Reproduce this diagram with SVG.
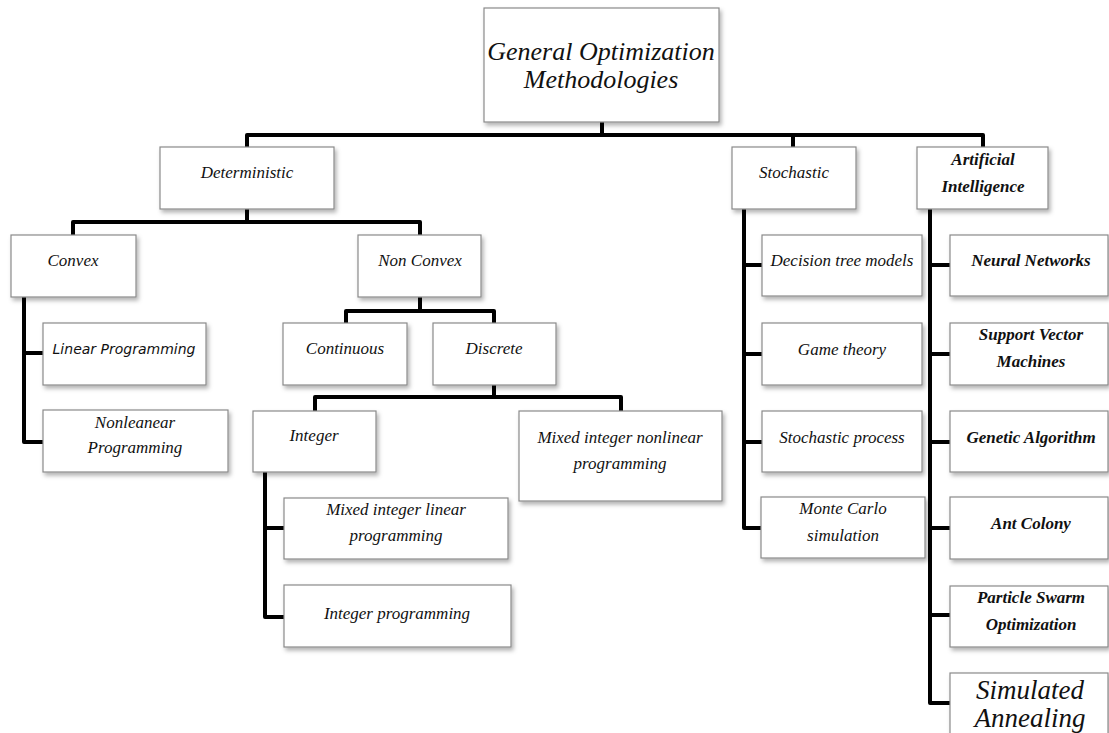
<svg xmlns="http://www.w3.org/2000/svg" width="1109" height="733" viewBox="0 0 1109 733">
<defs>
<filter id="sh" x="-10%" y="-10%" width="130%" height="140%">
<feDropShadow dx="2" dy="3" stdDeviation="2" flood-color="#000" flood-opacity="0.3"/>
</filter>
<style>
.box{fill:#fff;stroke:#8a8a8a;stroke-width:1.2;filter:url(#sh)}
.t{font-family:"Liberation Serif","Times New Roman",serif;font-style:italic;font-size:17px;fill:#111;text-anchor:middle}
.b{font-weight:bold}
.s{font-family:"DejaVu Sans",Verdana,sans-serif;font-size:14px}
.big{font-size:26px}
.sa{font-size:27px}
.c{fill:none;stroke:#000;stroke-width:4;stroke-linejoin:round}
</style>
</defs>
<rect width="1109" height="733" fill="#fff"/>
<g id="connectors">
<path class="c" d="M602,122 V135 M247,147 V135 H983 V147 M793,135 V147"/>
<path class="c" d="M247,209 V222 M73,235 V222 H420 V235"/>
<path class="c" d="M24,297 V442 H43 M24,353 H43"/>
<path class="c" d="M420,297 V311 M346,323 V311 H494 V323"/>
<path class="c" d="M494,385 V397 M315,411 V397 H621 V411"/>
<path class="c" d="M265,472 V617 H284 M265,528 H284"/>
<path class="c" d="M744,209 V528 H762 M744,265 H762 M744,354 H762 M744,442 H762"/>
<path class="c" d="M930,209 V703 H950 M930,265 H950 M930,354 H950 M930,442 H950 M930,528 H950 M930,615 H950"/>
</g>
<g id="n-general"><rect class="box" x="484" y="8" width="235" height="114"/><text class="t big" x="601" y="60">General Optimization</text><text class="t big" x="601" y="88">Methodologies</text></g>
<g id="n-deterministic"><rect class="box" x="160" y="147" width="174" height="62"/><text class="t" x="247" y="178">Deterministic</text></g>
<g id="n-stochastic"><rect class="box" x="732" y="147" width="124" height="62"/><text class="t" x="794" y="178">Stochastic</text></g>
<g id="n-ai"><rect class="box" x="917" y="147" width="131" height="62"/><text class="t b" x="983" y="165">Artificial</text><text class="t b" x="983" y="192">Intelligence</text></g>
<g id="n-convex"><rect class="box" x="11" y="235" width="125" height="62"/><text class="t" x="73" y="266">Convex</text></g>
<g id="n-nonconvex"><rect class="box" x="358" y="235" width="123" height="62"/><text class="t" x="420" y="266">Non Convex</text></g>
<g id="n-linear"><rect class="box" x="43" y="323" width="163" height="62"/><text class="t s" x="124" y="354">Linear Programming</text></g>
<g id="n-nonlinear"><rect class="box" x="43" y="410" width="185" height="62"/><text class="t" x="135" y="428">Nonleanear</text><text class="t" x="135" y="453">Programming</text></g>
<g id="n-continuous"><rect class="box" x="283" y="323" width="124" height="62"/><text class="t" x="345" y="354">Continuous</text></g>
<g id="n-discrete"><rect class="box" x="433" y="323" width="123" height="62"/><text class="t" x="494" y="354">Discrete</text></g>
<g id="n-integer"><rect class="box" x="253" y="411" width="123" height="61"/><text class="t" x="314" y="441">Integer</text></g>
<g id="n-minlp"><rect class="box" x="519" y="411" width="203" height="90"/><text class="t" x="620" y="443">Mixed integer nonlinear</text><text class="t" x="620" y="469">programming</text></g>
<g id="n-milp"><rect class="box" x="284" y="498" width="224" height="61"/><text class="t" x="396" y="515">Mixed integer linear</text><text class="t" x="396" y="541">programming</text></g>
<g id="n-intprog"><rect class="box" x="284" y="585" width="227" height="62"/><text class="t" x="397" y="619">Integer programming</text></g>
<g id="n-decision"><rect class="box" x="762" y="235" width="160" height="61"/><text class="t" x="842" y="266">Decision tree models</text></g>
<g id="n-game"><rect class="box" x="762" y="323" width="160" height="62"/><text class="t" x="842" y="355">Game theory</text></g>
<g id="n-stochproc"><rect class="box" x="762" y="411" width="160" height="61"/><text class="t" x="842" y="443">Stochastic process</text></g>
<g id="n-montecarlo"><rect class="box" x="761" y="497" width="164" height="61"/><text class="t" x="843" y="514">Monte Carlo</text><text class="t" x="843" y="541">simulation</text></g>
<g id="n-neural"><rect class="box" x="950" y="235" width="158" height="61"/><text class="t b" x="1031" y="266">Neural Networks</text></g>
<g id="n-svm"><rect class="box" x="950" y="323" width="158" height="62"/><text class="t b" x="1031" y="340">Support Vector</text><text class="t b" x="1031" y="367">Machines</text></g>
<g id="n-genetic"><rect class="box" x="950" y="411" width="158" height="61"/><text class="t b" x="1031" y="443">Genetic Algorithm</text></g>
<g id="n-ant"><rect class="box" x="950" y="497" width="158" height="62"/><text class="t b" x="1031" y="529">Ant Colony</text></g>
<g id="n-pso"><rect class="box" x="950" y="586" width="158" height="61"/><text class="t b" x="1031" y="603">Particle Swarm</text><text class="t b" x="1031" y="630">Optimization</text></g>
<g id="n-sa"><rect class="box" x="950" y="673" width="158" height="80"/><text class="t sa" x="1030" y="699">Simulated</text><text class="t sa" x="1030" y="727">Annealing</text></g>
</svg>
